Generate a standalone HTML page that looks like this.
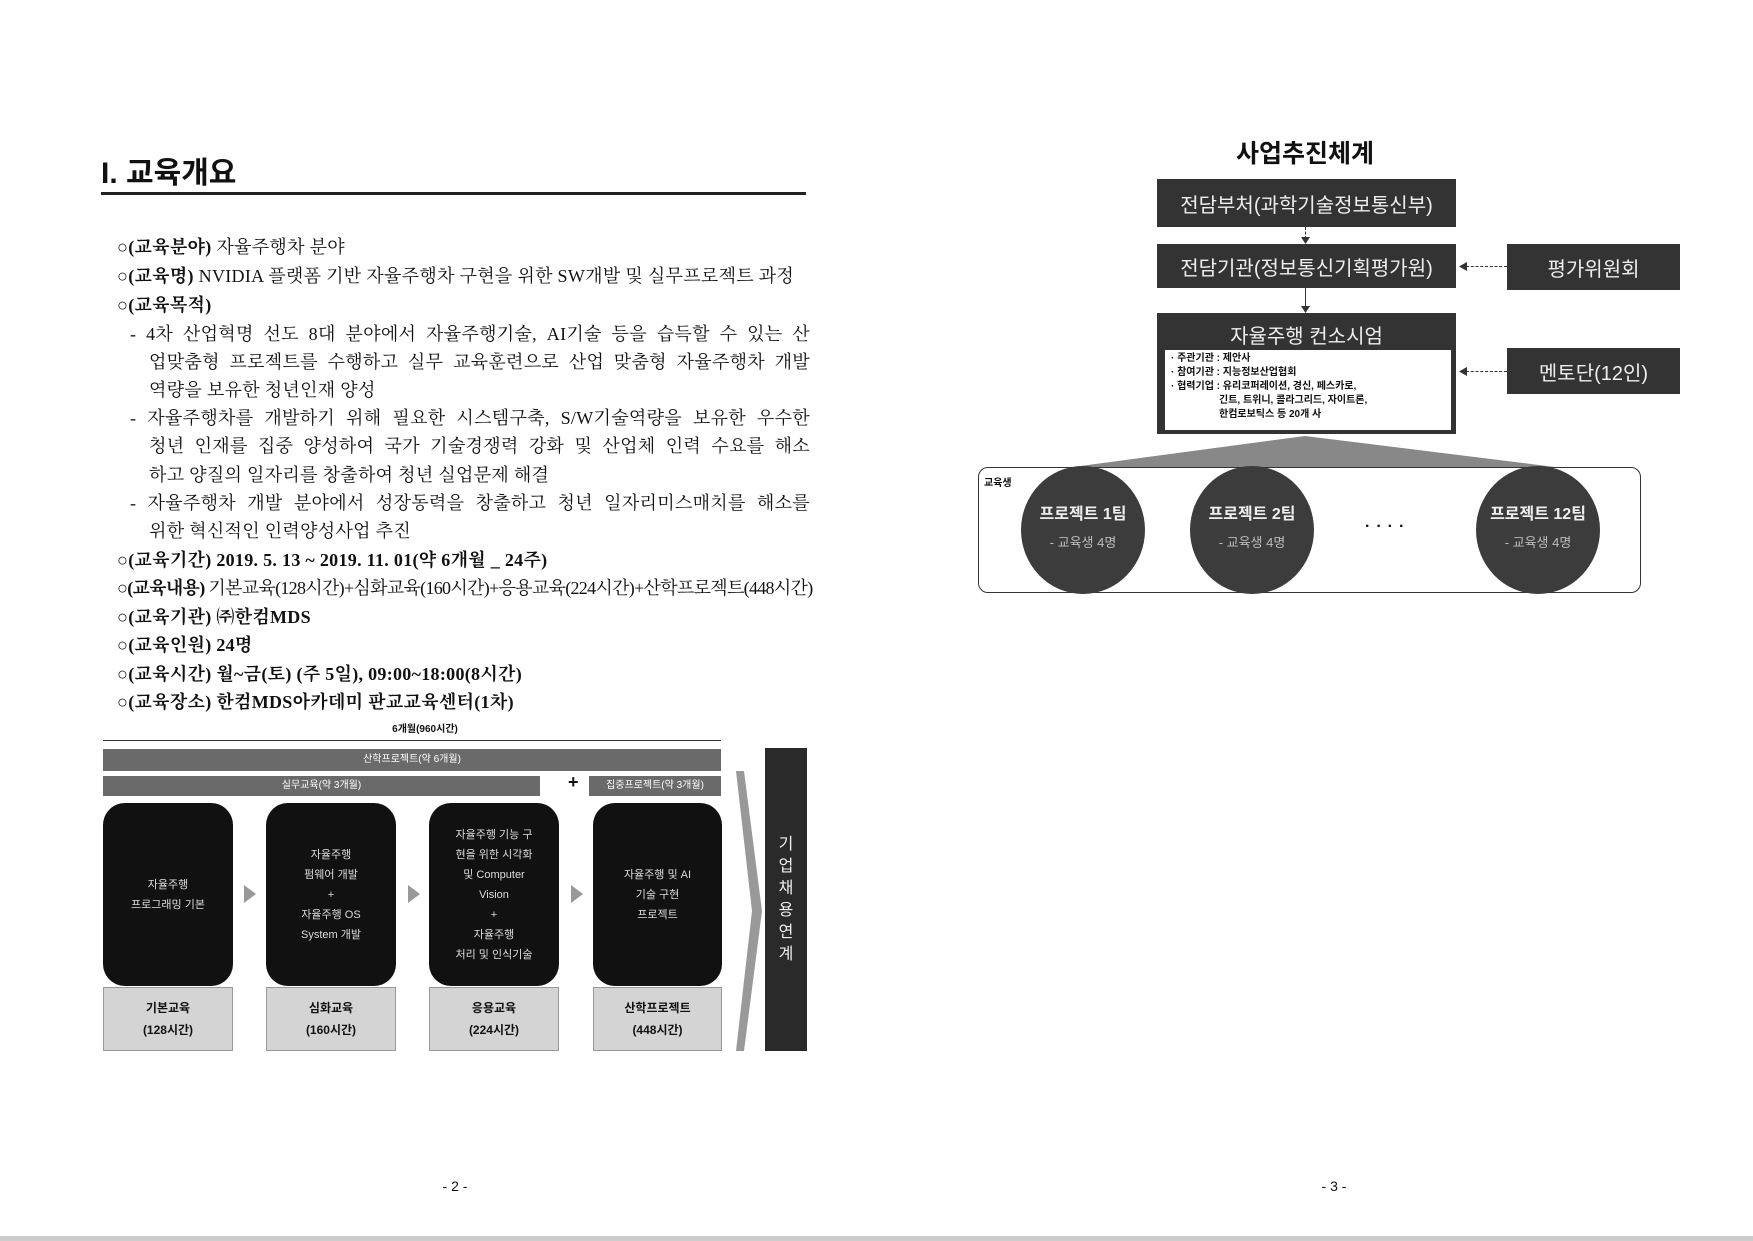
<!DOCTYPE html>
<html><head><meta charset="utf-8"><style>
*{margin:0;padding:0;box-sizing:border-box}
body{width:1753px;height:1241px;background:#fff;position:relative;overflow:hidden;font-family:"Liberation Serif","Noto Serif CJK SC","Noto Sans CJK KR",serif;color:#111}
.a{position:absolute}
.k{font-family:"Liberation Sans","Noto Sans CJK KR",sans-serif}
.ln{position:absolute;font-size:18px;white-space:nowrap;letter-spacing:0.3px}
.j{white-space:normal;text-align:justify;text-align-last:justify;right:943px}
.bk{background:#111;border-radius:22px;color:#ddd;font-size:11px;text-align:center;display:flex;align-items:center;justify-content:center;line-height:20px}
.gy{background:#d4d4d4;border:1px solid #999;font-size:12px;font-weight:bold;text-align:center;display:flex;align-items:center;justify-content:center;line-height:22px}
.bar{background:#6a6a6a;color:#fff;font-size:10px;text-align:center}
.db{background:#333;color:#eee;font-size:20px;text-align:center;display:flex;align-items:center;justify-content:center}
.ci{background:#3c3c3c;border-radius:50%;color:#eee;text-align:center}
.ar{width:0;height:0;border-top:9px solid transparent;border-bottom:9px solid transparent;border-left:12px solid #999}
</style></head><body>
<div class="a k" style="left:101px;top:148px;font-size:30px;font-weight:bold">I. 교육개요</div>
<div class="a" style="left:101px;top:192px;width:705px;height:3px;background:#222"></div>

<div class="ln" style="left:117px;top:233px">○<b>(교육분야)</b> 자율주행차 분야</div>
<div class="ln" style="left:117px;top:262px">○<b>(교육명)</b> NVIDIA 플랫폼 기반 자율주행차 구현을 위한 SW개발 및 실무프로젝트 과정</div>
<div class="ln" style="left:117px;top:291px">○<b>(교육목적)</b></div>
<div class="ln j" style="left:130px;top:320px">- 4차 산업혁명 선도 8대 분야에서 자율주행기술, AI기술 등을 습득할 수 있는 산</div>
<div class="ln j" style="left:149px;top:348px">업맞춤형 프로젝트를 수행하고 실무 교육훈련으로 산업 맞춤형 자율주행차 개발</div>
<div class="ln" style="left:149px;top:376px">역량을 보유한 청년인재 양성</div>
<div class="ln j" style="left:130px;top:404px">- 자율주행차를 개발하기 위해 필요한 시스템구축, S/W기술역량을 보유한 우수한</div>
<div class="ln j" style="left:149px;top:432px">청년 인재를 집중 양성하여 국가 기술경쟁력 강화 및 산업체 인력 수요를 해소</div>
<div class="ln" style="left:149px;top:461px">하고 양질의 일자리를 창출하여 청년 실업문제 해결</div>
<div class="ln j" style="left:130px;top:489px">- 자율주행차 개발 분야에서 성장동력을 창출하고 청년 일자리미스매치를 해소를</div>
<div class="ln" style="left:149px;top:517px">위한 혁신적인 인력양성사업 추진</div>
<div class="ln" style="left:117px;top:546px">○<b>(교육기간) 2019. 5. 13 ~ 2019. 11. 01(약 6개월 _ 24주)</b></div>
<div class="ln" style="left:117px;top:574px;letter-spacing:-0.7px">○<b>(교육내용)</b> 기본교육(128시간)+심화교육(160시간)+응용교육(224시간)+산학프로젝트(448시간)</div>
<div class="ln" style="left:117px;top:603px">○<b>(교육기관) ㈜한컴MDS</b></div>
<div class="ln" style="left:117px;top:631px">○<b>(교육인원) 24명</b></div>
<div class="ln" style="left:117px;top:660px">○<b>(교육시간) 월~금(토) (주 5일), 09:00~18:00(8시간)</b></div>
<div class="ln" style="left:117px;top:688px">○<b>(교육장소) 한컴MDS아카데미 판교교육센터(1차)</b></div>

<!-- diagram left -->
<div class="a k" style="left:325px;top:720px;width:200px;text-align:center;font-size:10px;font-weight:bold">6개월(960시간)</div>
<div class="a" style="left:103px;top:740px;width:618px;height:1px;background:#333"></div>
<div class="a k bar" style="left:103px;top:749px;width:618px;height:22px;line-height:22px">산학프로젝트(약 6개월)</div>
<div class="a k bar" style="left:103px;top:776px;width:437px;height:20px;line-height:20px">실무교육(약 3개월)</div>
<div class="a k" style="left:568px;top:772px;font-size:18px;font-weight:bold">+</div>
<div class="a k bar" style="left:589px;top:776px;width:132px;height:20px;line-height:20px">집중프로젝트(약 3개월)</div>
<div class="a k bk" style="left:103px;top:803px;width:130px;height:183px">자율주행<br>프로그래밍 기본</div>
<div class="a k bk" style="left:266px;top:803px;width:130px;height:183px">자율주행<br>펌웨어 개발<br>+<br>자율주행 OS<br>System 개발</div>
<div class="a k bk" style="left:429px;top:803px;width:130px;height:183px">자율주행 기능 구<br>현을 위한 시각화<br>및 Computer<br>Vision<br>+<br>자율주행<br>처리 및 인식기술</div>
<div class="a k bk" style="left:593px;top:803px;width:129px;height:183px">자율주행 및 AI<br>기술 구현<br>프로젝트</div>
<div class="a ar" style="left:244px;top:885px"></div>
<div class="a ar" style="left:408px;top:885px"></div>
<div class="a ar" style="left:571px;top:885px"></div>
<div class="a k gy" style="left:103px;top:987px;width:130px;height:64px">기본교육<br>(128시간)</div>
<div class="a k gy" style="left:266px;top:987px;width:130px;height:64px">심화교육<br>(160시간)</div>
<div class="a k gy" style="left:429px;top:987px;width:130px;height:64px">응용교육<br>(224시간)</div>
<div class="a k gy" style="left:593px;top:987px;width:129px;height:64px">산학프로젝트<br>(448시간)</div>
<svg class="a" style="left:736px;top:771px" width="26" height="280"><polygon points="0,0 8,0 26,140 8,280 0,280 16,140" fill="#999"/></svg>
<div class="a k" style="left:765px;top:748px;width:42px;height:303px;background:#2a2a2a;color:#eee;font-size:16px;text-align:center;display:flex;align-items:center;justify-content:center;line-height:22px">기<br>업<br>채<br>용<br>연<br>계</div>

<div class="a k" style="left:435px;top:1178px;width:40px;text-align:center;font-size:14px">- 2 -</div>
<div class="a k" style="left:1314px;top:1178px;width:40px;text-align:center;font-size:14px">- 3 -</div>

<!-- right diagram -->
<div class="a k" style="left:1205px;top:134px;width:200px;text-align:center;font-size:25px;font-weight:bold">사업추진체계</div>
<div class="a k db" style="left:1157px;top:179px;width:299px;height:48px">전담부처(과학기술정보통신부)</div>
<div class="a" style="left:1305px;top:227px;height:12px;border-left:1px dashed #333"></div>
<svg class="a" style="left:1301px;top:237px" width="9" height="7"><polygon points="0,0 9,0 4.5,7" fill="#333"/></svg>
<div class="a k db" style="left:1157px;top:244px;width:299px;height:44px">전담기관(정보통신기획평가원)</div>
<div class="a" style="left:1305px;top:288px;height:19px;border-left:1px solid #333"></div>
<svg class="a" style="left:1301px;top:306px" width="9" height="7"><polygon points="0,0 9,0 4.5,7" fill="#333"/></svg>
<div class="a k db" style="left:1507px;top:244px;width:173px;height:46px">평가위원회</div>
<div class="a" style="left:1466px;top:266px;width:41px;border-top:1px dashed #333"></div>
<svg class="a" style="left:1459px;top:262px" width="8" height="9"><polygon points="0,4.5 8,0 8,9" fill="#333"/></svg>
<div class="a k" style="left:1157px;top:313px;width:299px;height:121px;background:#333"></div>
<div class="a k" style="left:1157px;top:320px;width:299px;text-align:center;color:#eee;font-size:20px">자율주행 컨소시엄</div>
<div class="a k" style="left:1165px;top:350px;width:286px;height:80px;background:#fff;font-size:10px;font-weight:bold;line-height:14px;padding:2px 6px">· 주관기관 : 제안사<br>· 참여기관 : 지능정보산업협회<br>· 협력기업 : 유리코퍼레이션, 경신, 페스카로,<br><span style="padding-left:48px">긴트, 트위니, 콜라그리드, 자이트론,</span><br><span style="padding-left:48px">한컴로보틱스 등 20개 사</span></div>
<div class="a k db" style="left:1507px;top:348px;width:173px;height:46px">멘토단(12인)</div>
<div class="a" style="left:1466px;top:371px;width:41px;border-top:1px dashed #333"></div>
<svg class="a" style="left:1459px;top:367px" width="8" height="9"><polygon points="0,4.5 8,0 8,9" fill="#333"/></svg>
<svg class="a" style="left:1073px;top:436px" width="482" height="32"><polygon points="232,0 0,31 482,31" fill="#888"/></svg>
<div class="a" style="left:978px;top:467px;width:663px;height:126px;border:1px solid #333;border-radius:10px"></div>
<div class="a k" style="left:984px;top:474px;font-size:10px;font-weight:bold">교육생</div>
<div class="a k ci" style="left:1021px;top:466px;width:124px;height:128px"><div style="font-size:16px;font-weight:bold;margin-top:34px">프로젝트 1팀</div><div style="font-size:13px;margin-top:8px;color:#bbb">- 교육생 4명</div></div>
<div class="a k ci" style="left:1190px;top:466px;width:124px;height:128px"><div style="font-size:16px;font-weight:bold;margin-top:34px">프로젝트 2팀</div><div style="font-size:13px;margin-top:8px;color:#bbb">- 교육생 4명</div></div>
<div class="a k" style="left:1365px;top:518px;font-size:16px;font-weight:bold;letter-spacing:6px">····</div>
<div class="a k ci" style="left:1476px;top:466px;width:124px;height:128px"><div style="font-size:16px;font-weight:bold;margin-top:34px">프로젝트 12팀</div><div style="font-size:13px;margin-top:8px;color:#bbb">- 교육생 4명</div></div>
<div class="a" style="left:0;top:1236px;width:1753px;height:5px;background:#ccc"></div>
</body></html>
